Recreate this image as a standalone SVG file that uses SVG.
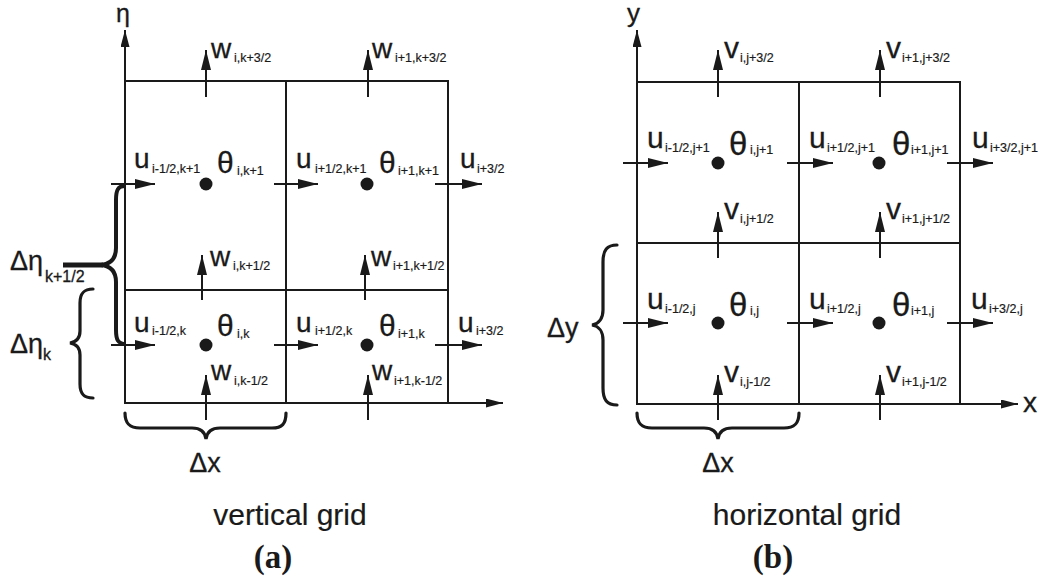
<svg xmlns="http://www.w3.org/2000/svg" width="1043" height="588" viewBox="0 0 1043 588">
<style>
  .ln{stroke:#1a1a1a;stroke-width:2;fill:none}
  .ar{stroke:#1a1a1a;stroke-width:2;fill:none;marker-end:url(#ah)}
  .ax{stroke:#1a1a1a;stroke-width:2;fill:none;marker-end:url(#axh)}
  .br{stroke:#1a1a1a;stroke-width:3.2;fill:none;stroke-linecap:round}
  .dot{fill:#1a1a1a}
  text{font-family:"Liberation Sans",Arial,sans-serif;fill:#1a1a1a;stroke:#1a1a1a;stroke-width:0.3}
  .ma{font-size:28px}
  .ta{font-size:30px}
  .mb{font-size:30px}
  .tb{font-size:33px}
  .sb{font-size:12.5px;stroke-width:0.2}
  .dl{font-size:27px}
  .cap{font-size:30px;stroke-width:0.2}
  .pl{font-family:"Liberation Serif","Times New Roman",serif;font-size:33px;font-weight:bold;stroke-width:0}
</style>
<defs>
  <marker id="ah" markerUnits="userSpaceOnUse" viewBox="0 0 20 10" markerWidth="20" markerHeight="10" refX="20" refY="5" orient="auto">
    <path d="M0,0 L20,5 L0,10 z" fill="#1a1a1a"/>
  </marker>
  <marker id="axh" markerUnits="userSpaceOnUse" viewBox="0 0 17 9" markerWidth="17" markerHeight="9" refX="17" refY="4.5" orient="auto">
    <path d="M0,0 L17,4.5 L0,9 z" fill="#1a1a1a"/>
  </marker>
</defs>

<!-- Panel (a) grid -->
<g id="gridA">
  <rect class="ln" x="125" y="81" width="323" height="322"/>
  <line class="ln" x1="286" y1="81" x2="286" y2="403"/>
  <line class="ln" x1="125" y1="290" x2="448" y2="290"/>
  <line class="ax" x1="125" y1="403" x2="125" y2="30"/>
  <line class="ax" x1="125" y1="403" x2="503" y2="403"/>
  <text x="116" y="22" style="font-size:25px">η</text>
</g>

<!-- Panel (b) grid -->
<g id="gridB">
  <rect class="ln" x="637" y="82" width="323" height="322"/>
  <line class="ln" x1="799" y1="82" x2="799" y2="404"/>
  <line class="ln" x1="637" y1="243" x2="960" y2="243"/>
  <line class="ax" x1="637" y1="404" x2="637" y2="30"/>
  <line class="ax" x1="637" y1="404" x2="1018" y2="404"/>
  <text x="627" y="22" style="font-size:26px">y</text>
  <text x="1023" y="412" style="font-size:28px">x</text>
</g>

<!-- connectors: velocity arrows -->
<g id="connectors">
  <line class="ar" x1="111" y1="184" x2="155" y2="184"/>
  <line class="ar" x1="274" y1="184" x2="318" y2="184"/>
  <line class="ar" x1="435" y1="184" x2="482" y2="184"/>
  <line class="ar" x1="111" y1="345" x2="155" y2="345"/>
  <line class="ar" x1="274" y1="345" x2="318" y2="345"/>
  <line class="ar" x1="435" y1="345" x2="482" y2="345"/>
  <line class="ar" x1="206" y1="97" x2="206" y2="50"/>
  <line class="ar" x1="368" y1="97" x2="368" y2="50"/>
  <line class="ar" x1="202" y1="300" x2="202" y2="255"/>
  <line class="ar" x1="365" y1="300" x2="365" y2="255"/>
  <line class="ar" x1="206" y1="420" x2="206" y2="375"/>
  <line class="ar" x1="368" y1="420" x2="368" y2="375"/>
  <line class="ar" x1="623" y1="163" x2="668" y2="163"/>
  <line class="ar" x1="787" y1="163" x2="833" y2="163"/>
  <line class="ar" x1="947" y1="163" x2="993" y2="163"/>
  <line class="ar" x1="623" y1="323" x2="668" y2="323"/>
  <line class="ar" x1="787" y1="323" x2="833" y2="323"/>
  <line class="ar" x1="947" y1="323" x2="993" y2="323"/>
  <line class="ar" x1="718" y1="97" x2="718" y2="50"/>
  <line class="ar" x1="880" y1="97" x2="880" y2="50"/>
  <line class="ar" x1="718" y1="258" x2="718" y2="212"/>
  <line class="ar" x1="880" y1="258" x2="880" y2="212"/>
  <line class="ar" x1="718" y1="420" x2="718" y2="375"/>
  <line class="ar" x1="880" y1="420" x2="880" y2="375"/>
</g>

<!-- Panel (a) nodes -->
<g id="a-theta-i-k1"><circle class="dot" cx="206" cy="184" r="6.5"/><text class="ta" x="217" y="173">θ<tspan class="sb" x="237" y="175">i,k+1</tspan></text></g>
<g id="a-theta-i1-k1"><circle class="dot" cx="367" cy="184" r="6.5"/><text class="ta" x="379" y="173">θ<tspan class="sb" x="398" y="175">i+1,k+1</tspan></text></g>
<g id="a-theta-i-k"><circle class="dot" cx="206" cy="345" r="6.5"/><text class="ta" x="217" y="336">θ<tspan class="sb" x="237" y="338">i,k</tspan></text></g>
<g id="a-theta-i1-k"><circle class="dot" cx="367" cy="345" r="6.5"/><text class="ta" x="379" y="336">θ<tspan class="sb" x="398" y="338">i+1,k</tspan></text></g>

<g id="a-u-labels">
  <text class="ma" x="134" y="168">u<tspan class="sb" x="152" y="173">i-1/2,k+1</tspan></text>
  <text class="ma" x="296" y="168">u<tspan class="sb" x="315" y="173">i+1/2,k+1</tspan></text>
  <text class="ma" x="460" y="168">u<tspan class="sb" x="477" y="173">i+3/2</tspan></text>
  <text class="ma" x="134" y="332">u<tspan class="sb" x="152" y="335">i-1/2,k</tspan></text>
  <text class="ma" x="296" y="332">u<tspan class="sb" x="315" y="335">i+1/2,k</tspan></text>
  <text class="ma" x="458" y="332">u<tspan class="sb" x="476" y="335">i+3/2</tspan></text>
</g>
<g id="a-w-labels">
  <text class="ma" x="211" y="58">w<tspan class="sb" x="234" y="62">i,k+3/2</tspan></text>
  <text class="ma" x="372" y="58">w<tspan class="sb" x="395" y="62">i+1,k+3/2</tspan></text>
  <text class="ma" x="210" y="266">w<tspan class="sb" x="233" y="270">i,k+1/2</tspan></text>
  <text class="ma" x="371" y="266">w<tspan class="sb" x="393" y="270">i+1,k+1/2</tspan></text>
  <text class="ma" x="211" y="380">w<tspan class="sb" x="234" y="385">i,k-1/2</tspan></text>
  <text class="ma" x="372" y="380">w<tspan class="sb" x="394" y="385">i+1,k-1/2</tspan></text>
</g>

<!-- Panel (a) braces -->
<g id="a-dx">
  <path class="br" d="M125,413 C125,424 130,428 140,428 L192,428 C200,428 205,432 206,439 C207,432 212,428 220,428 L272,428 C282,428 286,424 286,413"/>
  <text class="dl" x="205" y="472" text-anchor="middle">Δx</text>
</g>
<g id="a-deta-k">
  <path class="br" d="M93,289 C84,289 80,293 80,303 L80,331 C80,338 76,342 70,343 C76,344 80,348 80,355 L80,384 C80,394 84,398 93,398"/>
  <text class="dl" x="10" y="353">Δη<tspan x="43" y="360" style="font-size:16px">k</tspan></text>
</g>
<g id="a-deta-k12">
  <path d="M125,186 C118,186 116,190 116,200 L116,248 C116,258 111,264 101,265 C111,266 116,272 116,282 L116,330 C116,340 118,344 126,344" stroke="#1a1a1a" stroke-width="4" fill="none"/>
  <line x1="63" y1="265" x2="103" y2="265" stroke="#1a1a1a" stroke-width="5"/>
  <text class="dl" x="10" y="270">Δη<tspan x="45" y="282" style="font-size:16px">k+1/2</tspan></text>
</g>

<!-- Panel (b) nodes -->
<g id="b-theta-i-j1"><circle class="dot" cx="718" cy="163" r="6.5"/><text class="tb" x="729" y="155">θ<tspan class="sb" x="750" y="154">i,j+1</tspan></text></g>
<g id="b-theta-i1-j1"><circle class="dot" cx="879" cy="163" r="6.5"/><text class="tb" x="892" y="155">θ<tspan class="sb" x="911" y="154">i+1,j+1</tspan></text></g>
<g id="b-theta-i-j"><circle class="dot" cx="718" cy="323" r="6.5"/><text class="tb" x="729" y="316">θ<tspan class="sb" x="750" y="315">i,j</tspan></text></g>
<g id="b-theta-i1-j"><circle class="dot" cx="879" cy="323" r="6.5"/><text class="tb" x="892" y="316">θ<tspan class="sb" x="911" y="315">i+1,j</tspan></text></g>

<g id="b-u-labels">
  <text class="mb" x="647" y="148">u<tspan class="sb" x="665" y="152">i-1/2,j+1</tspan></text>
  <text class="mb" x="809" y="148">u<tspan class="sb" x="827" y="152">i+1/2,j+1</tspan></text>
  <text class="mb" x="972" y="148">u<tspan class="sb" x="990" y="152">i+3/2,j+1</tspan></text>
  <text class="mb" x="647" y="309">u<tspan class="sb" x="665" y="313">i-1/2,j</tspan></text>
  <text class="mb" x="809" y="309">u<tspan class="sb" x="827" y="313">i+1/2,j</tspan></text>
  <text class="mb" x="971" y="309">u<tspan class="sb" x="989" y="313">i+3/2,j</tspan></text>
</g>
<g id="b-v-labels">
  <text class="mb" x="724" y="58">v<tspan class="sb" x="740" y="62">i,j+3/2</tspan></text>
  <text class="mb" x="886" y="58">v<tspan class="sb" x="902" y="62">i+1,j+3/2</tspan></text>
  <text class="mb" x="724" y="219">v<tspan class="sb" x="740" y="223">i,j+1/2</tspan></text>
  <text class="mb" x="886" y="219">v<tspan class="sb" x="902" y="223">i+1,j+1/2</tspan></text>
  <text class="mb" x="724" y="382">v<tspan class="sb" x="740" y="386">i,j-1/2</tspan></text>
  <text class="mb" x="886" y="382">v<tspan class="sb" x="902" y="386">i+1,j-1/2</tspan></text>
</g>

<!-- Panel (b) braces -->
<g id="b-dx">
  <path class="br" d="M637,413 C637,424 642,428 652,428 L704,428 C712,428 717,432 718,439 C719,432 724,428 732,428 L784,428 C794,428 799,424 799,413"/>
  <text class="dl" x="718" y="472" text-anchor="middle">Δx</text>
</g>
<g id="b-dy">
  <path class="br" d="M617,245 C607,245 603,250 603,262 L603,310 C603,318 599,324 592,325 C599,326 603,332 603,340 L603,388 C603,400 607,405 617,405"/>
  <text class="dl" x="547" y="337">Δy</text>
</g>

<!-- captions -->
<g id="captions">
  <text class="cap" x="290" y="525" text-anchor="middle">vertical grid</text>
  <text class="cap" x="807" y="525" text-anchor="middle">horizontal grid</text>
  <text class="pl" x="273" y="568" text-anchor="middle">(a)</text>
  <text class="pl" x="773" y="568" text-anchor="middle">(b)</text>
</g>
</svg>
